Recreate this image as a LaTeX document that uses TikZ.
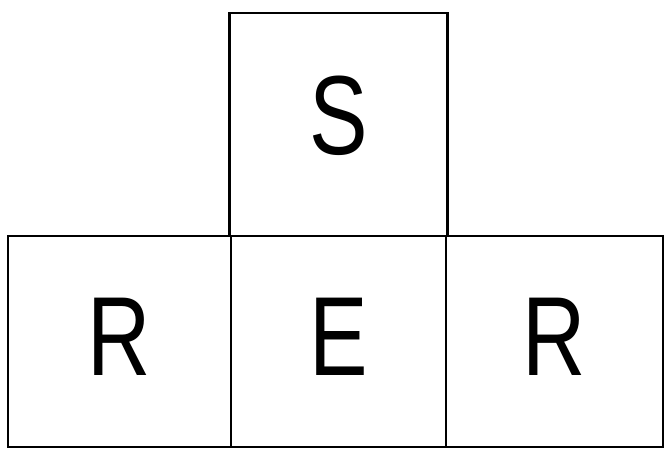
\documentclass[tikz,border=0pt]{standalone}
\usepackage{fontspec}
\setmainfont{Liberation Sans}
\usetikzlibrary{positioning}

\newcommand{\narrowletter}[1]{\scalebox{0.78}[1]{#1}}

\begin{document}
\begin{tikzpicture}[
    cell/.style={draw, line width=1.3pt, outer sep=0pt, inner sep=0pt,
                 minimum height=4.22cm, text depth=0.2cm,
                 font=\fontsize{64}{70}\selectfont}
  ]

  % 1. MARCO (proporciones de la figura)
  \useasboundingbox (0,0) rectangle (13.32,9);

  % 2. CASILLA CENTRAL
  \node[cell, minimum width=4.3cm] (midE) at (6.77,2.17) {\narrowletter{E}};

  % 3. CASILLAS ALREDEDOR
  \node[cell, minimum width=4.36cm, minimum height=4.46cm, text depth=0.36cm,
        above=0pt of midE] (topS) {\narrowletter{S}};
  \node[cell, minimum width=4.46cm, left=0pt of midE] (leftR) {\narrowletter{R}};
  \node[cell, minimum width=4.34cm, right=0pt of midE] (rightR) {\narrowletter{R}};

\end{tikzpicture}
\end{document}
